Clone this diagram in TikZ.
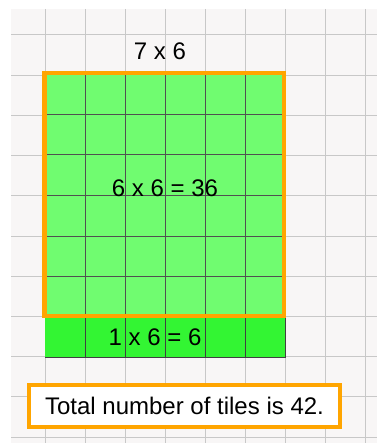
\documentclass[tikz,border=0pt]{standalone}
\usepackage{fontspec}
\setmainfont{Liberation Sans}
\definecolor{bggray}{HTML}{F8F6F6}
\definecolor{gridgray}{HTML}{C8C8C8}
\definecolor{lightgreen}{HTML}{70FC70}
\definecolor{brightgreen}{HTML}{33F533}
\definecolor{tileline}{HTML}{505050}
\definecolor{frameorange}{HTML}{FFA500}
\begin{document}
\begin{tikzpicture}[x=1pt,y=-1pt,
  lbl/.style={inner sep=0pt,font=\fontsize{24}{28}\selectfont,text=black},
  frame/.style={draw=frameorange,line width=4.5pt}]
\useasboundingbox (0,0) rectangle (377,443);
\fill[white] (0,0) rectangle (377,443);
% background grid paper
\fill[bggray] (11,9) rectangle (377,443);
\foreach \i in {0,...,8} \draw[gridgray,line width=1pt] ({45+40.1*\i},9) -- ({45+40.1*\i},443);
\foreach \j in {0,...,10} \draw[gridgray,line width=1pt] (11,{35+40.2*\j}) -- (377,{35+40.2*\j});
% 6 x 6 block
\fill[lightgreen] (44.5,73) rectangle (284,316);
\foreach \x in {85,125,165,205,245} \draw[tileline,line width=1pt] (\x,73) -- (\x,316);
\foreach \y in {115,155,196,236,276} \draw[tileline,line width=1pt] (44.5,\y) -- (284,\y);
% extra row
\fill[brightgreen] (45,316) rectangle (285,357);
\foreach \x in {85,125,165,205,245} \draw[black!75,line width=1pt] (\x,316) -- (\x,357);
\draw[black!75,line width=1pt] (285,316) -- (285,357) -- (45,357);
\draw[frame] (44.5,73) rectangle (284,316);
% texts
\node[lbl] (top) at (160,51) {7 x 6};
\node[lbl] (mid) at (165,188) {6 x 6 = 36};
\node[lbl] (row) at (155,337) {1 x 6 = 6};
\node[lbl,frame,fill=white,minimum width=311pt,minimum height=42pt] (total) at (184.5,406) {Total number of tiles is 42.};
\end{tikzpicture}
\end{document}
